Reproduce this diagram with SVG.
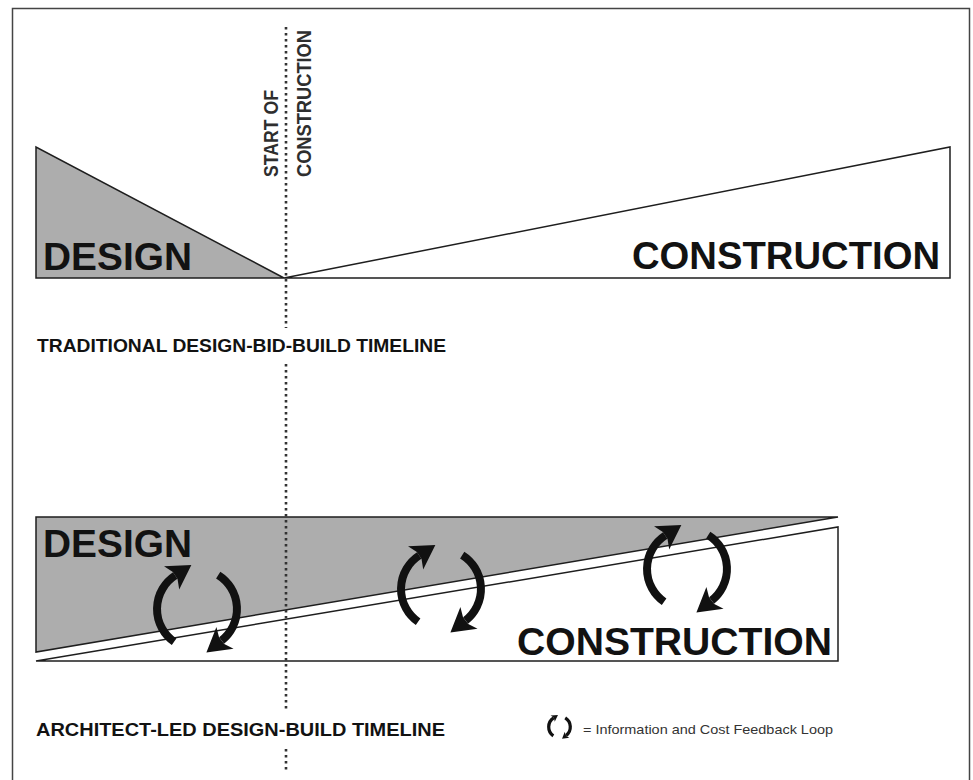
<svg xmlns="http://www.w3.org/2000/svg" width="973" height="780" viewBox="0 0 973 780">
<style>
.frame{fill:none;stroke:#444;stroke-width:1.5}
.grey{fill:#adadad;stroke:#1e1e1e;stroke-width:1.5;stroke-linejoin:miter}
.white{fill:#fff;stroke:#1e1e1e;stroke-width:1.5}
.dots{stroke:#333;stroke-width:2.6;stroke-dasharray:2.5 3.5;fill:none}
.big{font-family:"Liberation Sans",Arial,sans-serif;font-weight:bold;font-size:39px;fill:#121212}
.vlab{font-family:"Liberation Sans",Arial,sans-serif;font-weight:bold;font-size:20px;fill:#2e2e2e}
.lab{font-family:"Liberation Sans",Arial,sans-serif;font-weight:bold;font-size:19px;fill:#121212}
.legend{font-family:"Liberation Sans",Arial,sans-serif;font-size:13px;fill:#333}
.arc{fill:none;stroke:#111;stroke-width:8;marker-end:url(#head)}
.arcL{fill:none;stroke:#111;stroke-width:12;marker-end:url(#head)}
</style>
<defs>
<marker id="head" markerUnits="userSpaceOnUse" markerWidth="26" markerHeight="30" viewBox="-5 -14 24 28" refX="0" refY="0" orient="auto">
<path d="M-4,-13 L18,0 L-4,13 L0,4 L0,-4 Z" fill="#111"/>
</marker>
<g id="loop">
<path class="arc" d="M -22.9 32.8 A 40 40 0 0 1 -21.8 -33.5"/>
<path class="arc" d="M 21.2 -33.9 A 40 40 0 0 1 24.6 31.5"/>
</g>
<g id="loopL">
<path class="arcL" d="M -22.9 32.8 A 40 40 0 0 1 -21.8 -33.5"/>
<path class="arcL" d="M 21.2 -33.9 A 40 40 0 0 1 24.6 31.5"/>
</g>
</defs>
<rect class="frame" x="12.5" y="8.5" width="957" height="800"/>
<g id="traditional">
<g id="trad-design">
<polygon class="grey" points="36,147 36,278 284,278"/>
<text class="big" x="43" y="270" textLength="149" lengthAdjust="spacingAndGlyphs">DESIGN</text>
</g>
<g id="trad-construction">
<polygon class="white" points="284,278 950,147 950,278"/>
<text class="big" x="632" y="269" textLength="308" lengthAdjust="spacingAndGlyphs">CONSTRUCTION</text>
</g>
<text class="lab" x="37" y="352" textLength="409" lengthAdjust="spacingAndGlyphs">TRADITIONAL DESIGN-BID-BUILD TIMELINE</text>
</g>
<g id="architect-led">
<g id="al-design">
<polygon class="grey" points="36,652 36,517 838,517"/>
<text class="big" x="43" y="557" textLength="149" lengthAdjust="spacingAndGlyphs">DESIGN</text>
</g>
<g id="al-construction">
<polygon class="white" points="36,661 838,527 838,661"/>
<text class="big" x="517" y="655" textLength="315" lengthAdjust="spacingAndGlyphs">CONSTRUCTION</text>
</g>
<text class="lab" x="36" y="736" textLength="409" lengthAdjust="spacingAndGlyphs">ARCHITECT-LED DESIGN-BUILD TIMELINE</text>
</g>
<g id="connectors">
<path class="dots" d="M286,27 V328 M286,364 V712 M286,749 V772"/>
</g>
<g id="start-label">
<text class="vlab" transform="translate(278,177) rotate(-90)" textLength="87" lengthAdjust="spacingAndGlyphs">START OF</text>
<text class="vlab" transform="translate(310.5,177) rotate(-90)" textLength="147" lengthAdjust="spacingAndGlyphs">CONSTRUCTION</text>
</g>
<g id="loops">
<use href="#loop" transform="translate(197,609)"/>
<use href="#loop" transform="translate(441,589)"/>
<use href="#loop" transform="translate(687,569)"/>
</g>
<g id="legend">
<use href="#loopL" transform="translate(559.5,727) scale(0.27)"/>
<text class="legend" x="583" y="734" textLength="250" lengthAdjust="spacingAndGlyphs">= Information and Cost Feedback Loop</text>
</g>
</svg>
